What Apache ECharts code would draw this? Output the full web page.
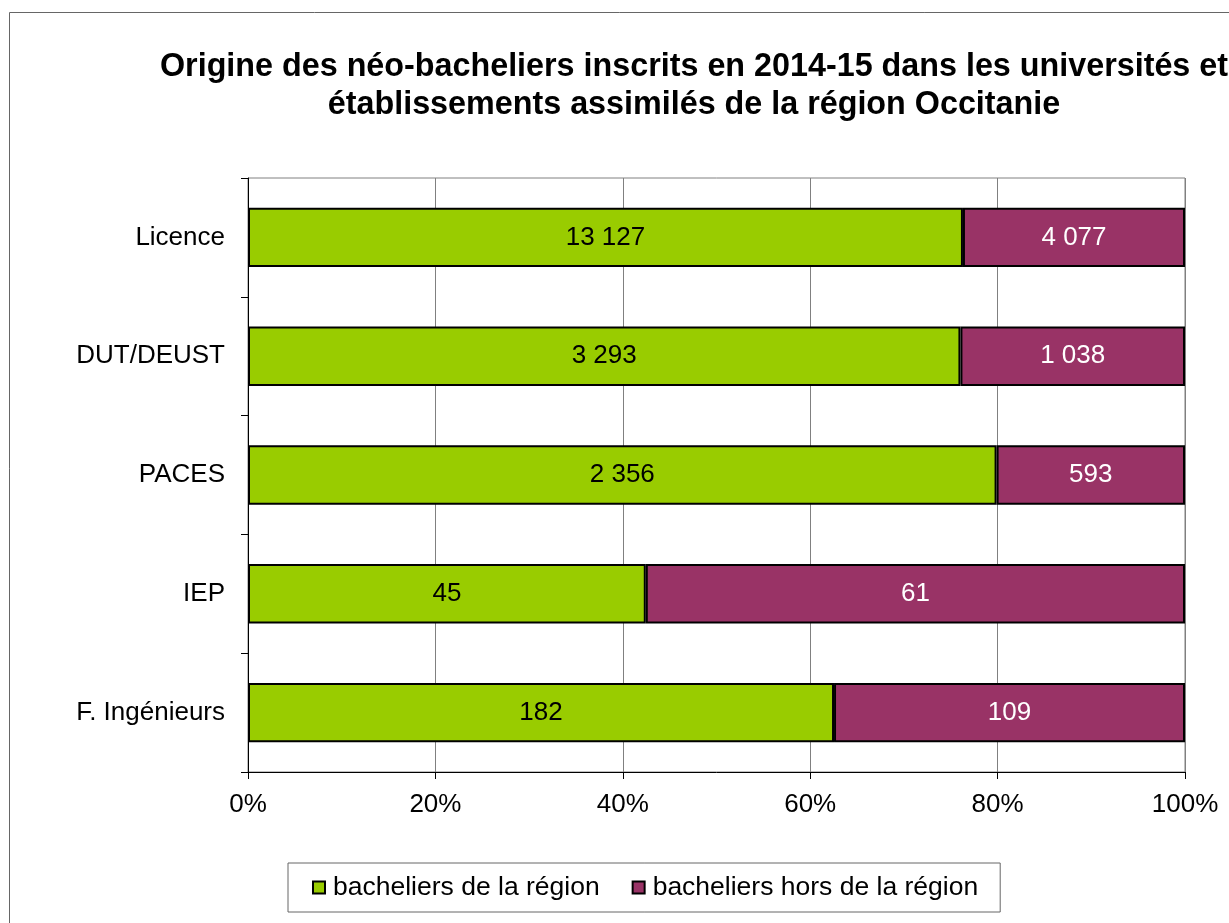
<!DOCTYPE html>
<html>
<head>
<meta charset="utf-8">
<script src="https://cdn.jsdelivr.net/npm/echarts@6/dist/echarts.min.js"></script>
<style>
  html, body { margin: 0; padding: 0; background: #fff; }
  #chart { width: 1229px; height: 923px; }
</style>
</head>
<body>
<div id="chart"></div>
<script>
// données
const categories = ["Licence", "DUT/DEUST", "PACES", "IEP", "F. Ingénieurs"];
const regionValues = [13127, 3293, 2356, 45, 182];
const horsRegionValues = [4077, 1038, 593, 61, 109];
const xTicks = [0, 20, 40, 60, 80, 100];

const font = "Liberation Sans, Arial, sans-serif";

// 13127 -> "13 127"
function fmt(n) {
  return String(n).replace(/\B(?=(\d{3})+(?!\d))/g, " ");
}

// pourcentages pour la barre empilée à 100 %
function pct(vals, i) {
  const total = regionValues[i] + horsRegionValues[i];
  return vals[i] / total * 100;
}

const chart = echarts.init(document.getElementById("chart"));
chart.setOption({
  backgroundColor: "#fff",
  animation: false,
  title: {
    text: "Origine des néo-bacheliers inscrits en 2014-15 dans les universités et\nétablissements assimilés de la région Occitanie",
    left: 689,
    top: 43,
    textAlign: "center",
    textStyle: {
      fontFamily: font,
      fontSize: 32.3,
      fontWeight: "bold",
      color: "#000",
      lineHeight: 38,
      align: "center"
    }
  },
  graphic: [
    {
      type: "rect",
      shape: { x: 9.5, y: 12.5, width: 1300, height: 1000 },
      style: { fill: "none", stroke: "#666", lineWidth: 1 },
      silent: true
    }
  ],
  legend: {
    left: 288,
    top: 863,
    padding: [11, 22, 11, 24],
    borderColor: "#666",
    borderWidth: 1,
    itemWidth: 12,
    itemHeight: 12,
    itemGap: 32,
    icon: "rect",
    textStyle: { fontFamily: font, fontSize: 26.5, color: "#000", padding: [0, 0, 0, 3] },
    data: ["bacheliers de la région", "bacheliers hors de la région"]
  },
  grid: {
    left: 248,
    right: 44,
    top: 178,
    bottom: 151,
    show: true,
    borderColor: "#808080",
    borderWidth: 1
  },
  xAxis: {
    type: "value",
    min: 0,
    max: 100,
    interval: 20,
    axisLine: { show: true, lineStyle: { color: "#000", width: 1 } },
    axisTick: { show: true, length: 7, lineStyle: { color: "#000" } },
    axisLabel: {
      margin: 20,
      fontFamily: font,
      fontSize: 26,
      color: "#000",
      formatter: v => xTicks.includes(v) ? v + "%" : ""
    },
    splitLine: { show: true, lineStyle: { color: "#808080", width: 1 } }
  },
  yAxis: {
    type: "category",
    inverse: true,
    data: categories,
    axisLine: { show: true, lineStyle: { color: "#000", width: 1 } },
    axisTick: { show: true, length: 7, inside: false, lineStyle: { color: "#000" } },
    axisLabel: { margin: 23, fontFamily: font, fontSize: 26, color: "#000" },
    splitLine: { show: false }
  },
  series: [
    {
      name: "bacheliers de la région",
      type: "bar",
      stack: "total",
      barWidth: "50%",
      data: regionValues.map((v, i) => pct(regionValues, i)),
      itemStyle: { color: "#99CC00", borderColor: "#000", borderWidth: 2 },
      label: {
        show: true,
        position: "inside",
        fontFamily: font,
        fontSize: 26,
        color: "#000",
        formatter: p => fmt(regionValues[p.dataIndex])
      }
    },
    {
      name: "bacheliers hors de la région",
      type: "bar",
      stack: "total",
      barWidth: "50%",
      data: horsRegionValues.map((v, i) => pct(horsRegionValues, i)),
      itemStyle: { color: "#993366", borderColor: "#000", borderWidth: 2 },
      label: {
        show: true,
        position: "inside",
        fontFamily: font,
        fontSize: 26,
        color: "#fff",
        formatter: p => fmt(horsRegionValues[p.dataIndex])
      }
    }
  ]
});
</script>
</body>
</html>
